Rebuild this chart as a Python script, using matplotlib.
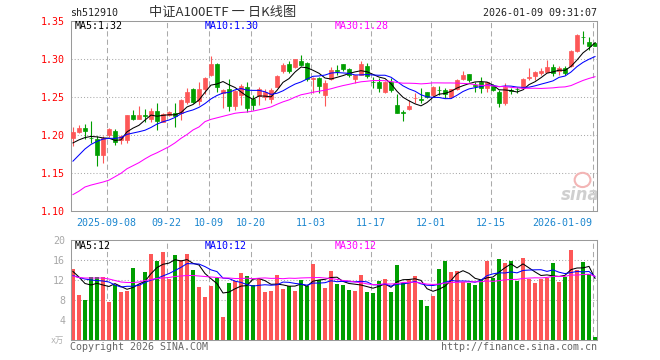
import numpy as np
import pandas as pd
import matplotlib
matplotlib.use('Agg')
import matplotlib.pyplot as plt
from matplotlib.patches import Ellipse

plt.rcParams['font.family'] = ['DejaVu Sans Mono', 'Noto Sans CJK SC']

# trading days shown on the chart (exchange closed on these weekdays)
holidays = ['2025-10-01', '2025-10-02', '2025-10-03', '2025-10-06',
            '2025-10-07', '2025-10-08', '2026-01-01', '2026-01-02']
days = pd.bdate_range('2025-08-29', '2026-01-09')
days = days[~days.isin(pd.to_datetime(holidays))]

opens = [1.196, 1.205, 1.2096, 1.197, 1.1956, 1.174, 1.2004, 1.2057, 1.194, 1.194,
         1.2267, 1.2215, 1.2265, 1.2215, 1.232, 1.218, 1.2265, 1.230, 1.229, 1.2435,
         1.261, 1.245, 1.261, 1.2793, 1.2938, 1.2555, 1.261, 1.239, 1.2535, 1.263,
         1.2473, 1.252, 1.250, 1.2475, 1.264, 1.284, 1.2938, 1.2905, 1.2978, 1.2947,
         1.2745, 1.2758, 1.253, 1.274, 1.2855, 1.2938, 1.2872, 1.274, 1.2794, 1.2916,
         1.2705, 1.2706, 1.2574, 1.2697, 1.2399, 1.2305, 1.2342, 1.249, 1.2475, 1.2566,
         1.253, 1.2600, 1.2596, 1.251, 1.261, 1.274, 1.2807, 1.2665, 1.2697, 1.2627,
         1.2649, 1.2574, 1.243, 1.259, 1.2612, 1.2627, 1.276, 1.2785, 1.2815, 1.2837,
         1.2903, 1.284, 1.289, 1.2912, 1.311, 1.3300, 1.3232, 1.3219]
highs = [1.211, 1.213, 1.2145, 1.219, 1.199, 1.1995, 1.210, 1.208, 1.201, 1.227,
         1.233, 1.239, 1.2346, 1.2355, 1.243, 1.230, 1.232, 1.242, 1.248, 1.262,
         1.262, 1.270, 1.277, 1.304, 1.295, 1.261, 1.274, 1.260, 1.268, 1.2705,
         1.253, 1.264, 1.2605, 1.2618, 1.279, 1.295, 1.298, 1.301, 1.3057, 1.296,
         1.277, 1.2765, 1.273, 1.290, 1.2925, 1.294, 1.288, 1.2796, 1.298, 1.2947,
         1.2772, 1.275, 1.272, 1.275, 1.255, 1.2335, 1.2465, 1.2552, 1.2618, 1.257,
         1.265, 1.265, 1.262, 1.261, 1.274, 1.285, 1.281, 1.2706, 1.2771, 1.2700,
         1.268, 1.2596, 1.2684, 1.262, 1.264, 1.276, 1.2881, 1.285, 1.289, 1.2991,
         1.294, 1.2916, 1.2916, 1.3122, 1.333, 1.3372, 1.3289, 1.3225]
lows = [1.186, 1.203, 1.1945, 1.190, 1.160, 1.163, 1.198, 1.187, 1.189, 1.190,
        1.220, 1.2215, 1.218, 1.218, 1.207, 1.218, 1.2255, 1.211, 1.220, 1.241,
        1.243, 1.240, 1.255, 1.278, 1.257, 1.236, 1.2324, 1.233, 1.240, 1.231,
        1.233, 1.240, 1.247, 1.242, 1.263, 1.282, 1.2825, 1.288, 1.2915, 1.272,
        1.256, 1.256, 1.239, 1.273, 1.279, 1.284, 1.277, 1.2684, 1.279, 1.275,
        1.2618, 1.2566, 1.256, 1.2574, 1.2289, 1.219, 1.233, 1.242, 1.243, 1.249,
        1.251, 1.253, 1.249, 1.249, 1.260, 1.273, 1.2705, 1.2574, 1.2552, 1.2574,
        1.258, 1.2377, 1.240, 1.2543, 1.2552, 1.262, 1.2728, 1.2728, 1.2794, 1.283,
        1.2785, 1.2794, 1.2794, 1.2903, 1.310, 1.3201, 1.3122, 1.3175]
closes = [1.204, 1.2096, 1.206, 1.196, 1.1741, 1.197, 1.2078, 1.1916, 1.1995, 1.2267,
          1.2215, 1.2267, 1.2258, 1.2324, 1.219, 1.2275, 1.2305, 1.2255, 1.2465, 1.2565,
          1.2435, 1.2605, 1.2758, 1.2938, 1.264, 1.2596, 1.239, 1.2583, 1.2645, 1.2355,
          1.240, 1.2605, 1.2574, 1.2596, 1.2784, 1.2925, 1.285, 1.3004, 1.2925, 1.2741,
          1.2758, 1.2653, 1.2692, 1.286, 1.2850, 1.2872, 1.2794, 1.2794, 1.2938, 1.2785,
          1.2697, 1.2618, 1.2697, 1.2596, 1.229, 1.2300, 1.2386, 1.2497, 1.2465, 1.251,
          1.264, 1.2595, 1.2543, 1.2605, 1.2728, 1.2794, 1.2728, 1.2655, 1.2627, 1.2697,
          1.2596, 1.2421, 1.264, 1.2585, 1.2605, 1.2741, 1.2765, 1.2829, 1.285, 1.2903,
          1.2824, 1.288, 1.2815, 1.3114, 1.332, 1.3295, 1.318, 1.318]
# volume, in units of 10^4 lots
volumes = [14.3, 9.1, 8.1, 12.6, 12.6, 12.6, 7.6, 11.0, 9.7, 9.8,
           14.4, 11.1, 13.7, 17.3, 15.9, 17.7, 12.3, 17.1, 16.0, 17.3,
           14.0, 10.6, 8.6, 10.8, 12.4, 4.6, 11.5, 11.9, 13.5, 12.9,
           11.0, 12.2, 9.7, 9.9, 13.1, 10.2, 10.9, 9.8, 12.0, 10.9,
           15.2, 12.1, 10.5, 13.8, 11.2, 11.0, 10.0, 9.8, 13.0, 9.6,
           9.4, 11.9, 12.2, 9.6, 15.1, 11.5, 12.1, 12.9, 8.0, 6.8,
           8.9, 14.2, 15.9, 13.7, 13.8, 11.7, 11.5, 11.0, 12.1, 15.9,
           12.5, 16.3, 15.5, 15.9, 11.9, 16.5, 12.3, 11.5, 12.3, 12.5,
           15.5, 11.7, 12.7, 18.0, 14.1, 15.6, 13.2, 0.7]

# MA values before a full window is on screen
ma5_head = [1.190, 1.194, 1.197, 1.1985]
ma10_head = [1.166, 1.174, 1.182, 1.188, 1.192, 1.195, 1.196, 1.196, 1.197]
ma30_head = [1.122, 1.1265, 1.132, 1.1345, 1.1365, 1.1385, 1.141, 1.1455, 1.150, 1.156,
             1.160, 1.164, 1.169, 1.1735, 1.177, 1.181, 1.185, 1.190, 1.196, 1.201,
             1.207, 1.211, 1.218, 1.221, 1.223, 1.225, 1.227, 1.229, 1.230]
vma5_head = [13.7, 12.6, 11.3, 11.0]
vma10_head = [12.9, 12.5, 12.2, 12.0, 11.9, 11.8, 11.6, 11.0, 10.6]
vma30_head = [12.8, 12.5, 12.4, 12.4, 12.4, 12.4, 12.2, 11.9, 11.6, 11.5,
              11.5, 11.6, 11.9, 12.1, 12.3, 12.4, 12.5, 12.7, 12.8, 12.9,
              12.9, 12.8, 12.7, 12.6, 12.5, 12.4, 12.4, 12.3, 12.3]

tick_dates = ['2025-09-08', '2025-09-22', '2025-10-09', '2025-10-20', '2025-11-03',
              '2025-11-17', '2025-12-01', '2025-12-15', '2026-01-09']
tick_labels = ['2025-09-08', '09-22', '10-09', '10-20', '11-03',
               '11-17', '12-01', '12-15', '2026-01-09']
price_ticks = [1.10, 1.15, 1.20, 1.25, 1.30, 1.35]
vol_ticks = [4, 8, 12, 16, 20]


def moving_avg(values, n, head):
    out = pd.Series(values).rolling(n).mean().to_numpy()
    out[:n - 1] = head
    return out


RED = '#fd5757'
GREEN = '#009e00'
GRID = '#aaaaaa'
W, H = 660, 360

x = np.arange(len(days))
o, h, l, c = map(np.array, (opens, highs, lows, closes))
up = c >= o
colors = np.where(up, RED, GREEN)

ma5 = moving_avg(closes, 5, ma5_head)
ma10 = moving_avg(closes, 10, ma10_head)
ma30 = moving_avg(closes, 30, ma30_head)
vma5 = moving_avg(volumes, 5, vma5_head)
vma10 = moving_avg(volumes, 10, vma10_head)
vma30 = moving_avg(volumes, 30, vma30_head)

tick_pos = [days.get_loc(pd.Timestamp(d)) - 0.4 for d in tick_dates]

fig = plt.figure(figsize=(W / 100, H / 100), dpi=100)
fig.patch.set_facecolor('white')


def box(left, top, right, bottom):
    return [left / W, 1 - bottom / H, (right - left) / W, (bottom - top) / H]


def fpos(px, py):
    return px / W, 1 - py / H


ax = fig.add_axes(box(70.7, 21.3, 597.3, 211.3))
ax2 = fig.add_axes(box(70.7, 240, 597.3, 340))

bw = 0.78
for a in (ax, ax2):
    a.set_xlim(-0.38, len(days) - 1 + 0.38)
    for s in a.spines.values():
        s.set_color('#9a9a9a')
        s.set_linewidth(0.75)
    for p in tick_pos:
        a.axvline(p, color=GRID, lw=0.75, ls=(0, (5, 3)), zorder=0)

# candles
ax.vlines(x, l, h, colors=colors, lw=0.8, zorder=2)
ax.bar(x, np.abs(c - o), bottom=np.minimum(o, c), width=bw, color=colors,
       edgecolor=colors, linewidth=0.5, zorder=3)
ax.plot(x, ma5, color='black', lw=0.75, zorder=4)
ax.plot(x, ma10, color='#0000ff', lw=0.75, zorder=4)
ax.plot(x, ma30, color='#ff00ff', lw=0.75, zorder=4)

ax.set_ylim(price_ticks[0], price_ticks[-1])
for y in price_ticks[1:-1]:
    ax.axhline(y, color=GRID, lw=0.75, ls=(0, (1, 2)), zorder=0)
ax.set_yticks(price_ticks, [f'{v:.2f}' for v in price_ticks])
ax.tick_params(axis='y', length=0, pad=4, labelsize=7.2, labelcolor='red')
ax.set_xticks(tick_pos, tick_labels)
ax.tick_params(axis='x', length=0, pad=4.5, labelsize=7.2, labelcolor='#1b86cf')
ax.get_xticklabels()[-1].set_ha('right')

# volume
ax2.bar(x, volumes, width=bw, color=colors, zorder=2)
ax2.plot(x, vma5, color='black', lw=0.75, zorder=4)
ax2.plot(x, vma10, color='#0000ff', lw=0.75, zorder=4)
ax2.plot(x, vma30, color='#ff00ff', lw=0.75, zorder=4)
ax2.set_ylim(0, vol_ticks[-1])
for y in vol_ticks[:-1]:
    ax2.axhline(y, color=GRID, lw=0.75, ls=(0, (1, 2)), zorder=0)
ax2.set_yticks(vol_ticks, [str(v) for v in vol_ticks])
ax2.tick_params(axis='y', length=0, pad=4, labelsize=7.2, labelcolor='#a8a8a8')
ax2.set_xticks([])

# header texts
fig.text(*fpos(70, 13), 'sh512910', fontsize=7.2, color='#222222', va='center')
fig.text(*fpos(223, 12.5), '中证A100ETF 一 日K线图', fontsize=9.5, color='#333333',
         ha='center', va='center', family=['Noto Sans CJK SC', 'DejaVu Sans'])
fig.text(*fpos(597, 13), '2026-01-09 09:31:07', fontsize=7.2, color='#222222',
         ha='right', va='center')

fig.text(*fpos(75, 26), f'MA5:{ma5[-1]:.2f}', fontsize=7.2, color='black', va='center')
fig.text(*fpos(205, 26), f'MA10:{ma10[-1]:.2f}', fontsize=7.2, color='#0000ff', va='center')
fig.text(*fpos(335, 26), f'MA30:{ma30[-1]:.2f}', fontsize=7.2, color='#ff00ff', va='center')

fig.text(*fpos(75, 246), 'MA5:12', fontsize=7.2, color='black', va='center')
fig.text(*fpos(205, 246), 'MA10:12', fontsize=7.2, color='#0000ff', va='center')
fig.text(*fpos(335, 246), 'MA30:12', fontsize=7.2, color='#ff00ff', va='center')

fig.text(*fpos(64, 340), 'x万', fontsize=6, color='#b0b0b0', ha='right', va='center')
fig.text(*fpos(70, 346.5), 'Copyright 2026 SINA.COM', fontsize=7.2, color='#666666',
         va='center')
fig.text(*fpos(597, 346.5), 'http://finance.sina.com.cn', fontsize=7.2, color='#666666',
         ha='right', va='center')

# sina watermark
ax.add_patch(Ellipse((0.972, 0.165), 0.03, 0.075, transform=ax.transAxes,
                     fill=False, ec='#f3b5b5', lw=1.5, zorder=1))
ax.text(0.968, 0.085, 'sina', transform=ax.transAxes, fontsize=12, fontweight='bold',
        fontstyle='italic', family='DejaVu Sans', color='#cfcfcf', ha='center',
        va='center', zorder=1)

fig.savefig('out.png', dpi=100)
